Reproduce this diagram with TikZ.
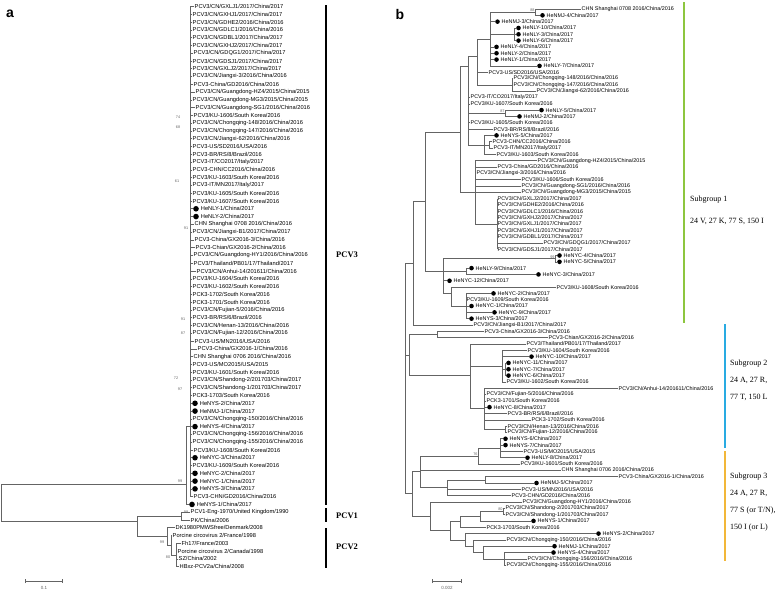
\documentclass[tikz,border=0pt]{standalone}
\usepackage{fontspec}
\setmainfont{Liberation Serif}
\setsansfont{Liberation Sans}
\usetikzlibrary{arrows.meta}

\definecolor{branch}{RGB}{100,100,100}
\definecolor{sgone}{RGB}{141,198,63}
\definecolor{sgtwo}{RGB}{41,171,226}
\definecolor{sgthree}{RGB}{242,183,57}

\newcommand{\lbla}{\sffamily\fontsize{5.7}{6}\selectfont}
\newcommand{\lblb}{\sffamily\fontsize{5.4}{6}\selectfont}
\newcommand{\btf}{\sffamily\fontsize{3.8}{4}\selectfont}

\tikzset{
  leafa/.style={font=\lbla, anchor=west, inner sep=0.5pt},
  leafb/.style={font=\lblb, anchor=west, inner sep=0.5pt},
  hita/.style={circle, fill=black, inner sep=0pt, minimum size=5.6pt, anchor=west},
  hitb/.style={circle, fill=black, inner sep=0pt, minimum size=4.6pt, anchor=west},
  br/.style={draw=branch, line width=0.6pt},
  boot/.style={font=\btf, text=branch, inner sep=0.3pt},
  cladebar/.style={line width=1.6pt},
  cladename/.style={font=\bfseries\fontsize{8.5}{10}\selectfont, anchor=west, inner sep=0pt},
  sgbar/.style={line width=1.5pt},
  sgtext/.style={font=\fontsize{8}{10}\selectfont, anchor=north west, align=left, inner sep=0pt},
  panel/.style={font=\sffamily\bfseries\fontsize{14}{14}\selectfont, inner sep=0pt},
  scalebar/.style={draw=branch, line width=0.7pt, {Bar[width=4pt]}-{Bar[width=4pt]}},
  declare function={ya(\i)=6.5+(\i-1)*7.78; yb(\i)=9+(\i-1)*6.32;}
}

\begin{document}
\begin{tikzpicture}[x=1pt, y=-1pt]
\useasboundingbox (0,0) rectangle (778,590);
\fill[white] (0,0) rectangle (778,590);

\node[panel] (pa) at (10,14) {a};
\node[panel] (pb) at (400,14) {b};

% tree a
\foreach \n/\x/\t in {
  1/194/{PCV3/CN/GXLJ1/2017/China/2017}, 2/192/{PCV3/CN/GXHJ1/2017/China/2017},
  3/192/{PCV3/CN/GDHE2/2016/China/2016}, 4/192/{PCV3/CN/GDLC1/2016/China/2016},
  5/192/{PCV3/CN/GDBL1/2017/China/2017}, 6/192/{PCV3/CN/GXHJ2/2017/China/2017},
  7/193/{PCV3/CN/GDQG1/2017/China/2017}, 8/192/{PCV3/CN/GDSJ1/2017/China/2017},
  9/192/{PCV3/CN/GXLJ2/2017/China/2017}, 10/192/{PCV3/CN/Jiangxi-3/2016/China/2016},
  11/193/{PCV3-China/GD2016/China/2016}, 12/195/{PCV3/CN/Guangdong-HZ4/2015/China/2015},
  13/192/{PCV3/CN/Guangdong-MG3/2015/China/2015}, 14/195/{PCV3/CN/Guangdong-SG1/2016/China/2016},
  15/193/{PCV3/KU-1606/South Korea/2016}, 16/192/{PCV3/CN/Chongqing-148/2016/China/2016},
  17/192/{PCV3/CN/Chongqing-147/2016/China/2016}, 18/192/{PCV3/CN/Jiangxi-62/2016/China/2016},
  19/192/{PCV3-US/SD2016/USA/2016}, 20/192/{PCV3-BR/RS/8/Brazil/2016},
  21/192/{PCV3-IT/CO2017/Italy/2017}, 22/192/{PCV3-CHN/CC2016/China/2016},
  23/192/{PCV3/KU-1603/South Korea/2016}, 24/192/{PCV3-IT/MN2017/Italy/2017},
  25/192/{PCV3/KU-1605/South Korea/2016}, 26/192/{PCV3/KU-1607/South Korea/2016},
  29/194/{CHN Shanghai 0708 2016/China/2016}, 30/192/{PCV3/CN/Jiangxi-B1/2017/China/2017},
  31/194/{PCV3-China/GX2016-3/China/2016}, 32/195/{PCV3-Chian/GX2016-2/China/2016},
  33/193/{PCV3/CN/Guangdong-HY1/2016/China/2016}, 34/193/{PCV3/Thailand/PB01/17/Thailand/2017},
  35/196/{PCV3/CN/Anhui-14/201611/China/2016}, 36/192/{PCV3/KU-1604/South Korea/2016},
  37/192/{PCV3/KU-1602/South Korea/2016}, 38/192/{PCK3-1702/South Korea/2016},
  39/192/{PCK3-1701/South Korea/2016}, 40/192/{PCV3/CN/Fujian-5/2016/China/2016},
  41/192/{PCV3-BR/RS/6/Brazil/2016}, 42/192/{PCV3/CN/Henan-13/2016/China/2016},
  43/192/{PCV3/CN/Fujian-12/2016/China/2016}, 44/194/{PCV3-US/MN2016/USA/2016},
  45/197/{PCV3-China/GX2016-1/China/2016}, 46/193/{CHN Shanghai 0706 2016/China/2016},
  47/192/{PCV3-US/MO2015/USA/2015}, 48/192/{PCV3/KU-1601/South Korea/2016},
  49/192/{PCV3/CN/Shandong-2/201703/China/2017}, 50/192/{PCV3/CN/Shandong-1/201703/China/2017},
  51/192/{PCK3-1703/South Korea/2016}, 54/192/{PCV3/CN/Chongqing-150/2016/China/2016},
  56/192/{PCV3/CN/Chongqing-156/2016/China/2016}, 57/192/{PCV3/CN/Chongqing-155/2016/China/2016},
  58/193/{PCV3/KU-1608/South Korea/2016}, 60/192/{PCV3/KU-1609/South Korea/2016},
  64/193/{PCV3-CHN/GD2016/China/2016}, 66/190/{PCV1-Eng-1970/United Kingdom/1990},
  67/190/{PK/China/2006}, 68/175/{DK1980PMWSfree/Denmark/2008},
  69/172/{Porcine circovirus 2/France/1998}, 70/181/{Fh17/France/2003},
  71/177/{Porcine circovirus 2/Canada/1998}, 72/178/{SZ/China/2002},
  73/179/{HBxz-PCV2a/China/2008}}{
  \coordinate (ta\n) at (\x,{ya(\n)});
  \node[leafa] (a\n) at (ta\n) {\t};
}
\foreach \n/\x/\t in {
  27/193/{HeNLY-1/China/2017}, 28/193/{HeNLY-2/China/2017},
  52/192/{HeNYS-2/China/2017}, 53/192/{HeNMJ-1/China/2017},
  55/192/{HeNYS-4/China/2017}, 59/192/{HeNYC-3/China/2017},
  61/192/{HeNYC-2/China/2017}, 62/192/{HeNYC-1/China/2017},
  63/192/{HeNYS-3/China/2017}, 65/189/{HeNYS-1/China/2017}}{
  \coordinate (ta\n) at (\x,{ya(\n)});
  \node[hita] (da\n) at (ta\n) {};
  \node[leafa] (a\n) at ([xshift=1.2pt]da\n.east) {\t};
}
\foreach \nm/\x/\y in {ac/190/55, ar3/186/62.4, ap1/181/66.5, apc/176/71.5,
  apb/171/70.25, ap2/167/69.1, ar12/137/67.2, aroot/1.5/64.8}
  \coordinate (\nm) at (\x,{ya(\y)});
\foreach \p/\cs in {ac/{1,...,64}, ar3/{65}, ap1/{66,67}, ap2/{68}, apb/{69},
  apc/{70,71,72,73}}
  \foreach \c in \cs \draw[br] (\p) |- (ta\c);
\foreach \p/\q in {aroot/ar3, aroot/ar12, ar3/ac, ar12/ap1, ar12/ap2, ap2/apb, apb/apc}
  \draw[br] (\p) |- (\q);

\foreach \x/\y/\v in {178/117/74, 178/127/68, 177/181/61, 186/228/91, 183/319/91,
  183/333/87, 176/378/72, 180/389/97, 180/481/99, 186/512/99, 162/542/99, 168/557/80}
  \node[boot] at (\x,\y) {\v};

\coordinate (c3t) at (326,5);   \coordinate (c3b) at (326,505);
\coordinate (c1t) at (326,508); \coordinate (c1b) at (326,522);
\coordinate (c2t) at (326,528); \coordinate (c2b) at (326,568);
\draw[cladebar] (c3t) -- (c3b);
\draw[cladebar] (c1t) -- (c1b);
\draw[cladebar] (c2t) -- (c2b);
\node[cladename] (pcv3) at (336,255) {PCV3};
\node[cladename] (pcv1) at (336,516) {PCV1};
\node[cladename] (pcv2) at (336,{ya(70.5)}) {PCV2};

\coordinate (sa0) at (25,581); \coordinate (sa1) at (63,581);
\draw[scalebar] (sa0) -- (sa1);
\node[boot, font=\sffamily\fontsize{4.5}{5}\selectfont] (sal) at (44,588) {0.1};

% tree b
\foreach \n/\x/\t in {
  1/581/{CHN Shanghai 0708 2016/China/2016}, 11/488/{PCV3-US/SD2016/USA/2016},
  12/513/{PCV3/CN/Chongqing-148/2016/China/2016}, 13/513/{PCV3/CN/Chongqing-147/2016/China/2016},
  14/536/{PCV3/CN/Jiangxi-62/2016/China/2016}, 15/470/{PCV3-IT/CO2017/Italy/2017},
  16/470/{PCV3/KU-1607/South Korea/2016}, 19/470/{PCV3/KU-1605/South Korea/2016},
  20/493/{PCV3-BR/RS/8/Brazil/2016}, 22/492/{PCV3-CHN/CC2016/China/2016},
  23/493/{PCV3-IT/MN2017/Italy/2017}, 24/496/{PCV3/KU-1603/South Korea/2016},
  25/537/{PCV3/CN/Guangdong-HZ4/2015/China/2015}, 26/497/{PCV3-China/GD2016/China/2016},
  27/476/{PCV3/CN/Jiangxi-3/2016/China/2016}, 28/521/{PCV3/KU-1606/South Korea/2016},
  29/521/{PCV3/CN/Guangdong-SG1/2016/China/2016}, 30/521/{PCV3/CN/Guangdong-MG3/2015/China/2015},
  31/497/{PCV3/CN/GXLJ2/2017/China/2017}, 32/497/{PCV3/CN/GDHE2/2016/China/2016},
  33/497/{PCV3/CN/GDLC1/2016/China/2016}, 34/497/{PCV3/CN/GXHJ2/2017/China/2017},
  35/497/{PCV3/CN/GXLJ1/2017/China/2017}, 36/497/{PCV3/CN/GXHJ1/2017/China/2017},
  37/497/{PCV3/CN/GDBL1/2017/China/2017}, 38/543/{PCV3/CN/GDQG1/2017/China/2017},
  39/497/{PCV3/CN/GDSJ1/2017/China/2017}, 45/556/{PCV3/KU-1608/South Korea/2016},
  47/466/{PCV3/KU-1609/South Korea/2016}, 51/473/{PCV3/CN/Jiangxi-B1/2017/China/2017},
  52/484/{PCV3-China/GX2016-3/China/2016}, 53/548/{PCV3-Chian/GX2016-2/China/2016},
  54/526/{PCV3/Thailand/PB01/17/Thailand/2017}, 55/527/{PCV3/KU-1604/South Korea/2016},
  60/506/{PCV3/KU-1602/South Korea/2016}, 61/618/{PCV3/CN/Anhui-14/201611/China/2016},
  62/486/{PCV3/CN/Fujian-5/2016/China/2016}, 63/486/{PCK3-1701/South Korea/2016},
  65/507/{PCV3-BR/RS/6/Brazil/2016}, 66/531/{PCK3-1702/South Korea/2016},
  67/507/{PCV3/CN/Henan-13/2016/China/2016}, 68/507/{PCV3/CN/Fujian-12/2016/China/2016},
  71/523/{PCV3-US/MO2015/USA/2015}, 73/520/{PCV3/KU-1601/South Korea/2016},
  74/561/{CHN Shanghai 0706 2016/China/2016}, 75/618/{PCV3-China/GX2016-1/China/2016},
  77/521/{PCV3-US/MN2016/USA/2016}, 78/511/{PCV3-CHN/GD2016/China/2016},
  79/522/{PCV3/CN/Guangdong-HY1/2016/China/2016}, 80/505/{PCV3/CN/Shandong-2/201703/China/2017},
  81/505/{PCV3/CN/Shandong-1/201703/China/2017}, 83/486/{PCK3-1703/South Korea/2016},
  85/506/{PCV3/CN/Chongqing-150/2016/China/2016}, 88/527/{PCV3/CN/Chongqing-156/2016/China/2016},
  89/506/{PCV3/CN/Chongqing-155/2016/China/2016}}{
  \coordinate (tb\n) at (\x,{yb(\n)});
  \node[leafb] (b\n) at (tb\n) {\t};
}
\foreach \n/\x/\t in {
  2/540/{HeNMJ-4/China/2017}, 3/495/{HeNMJ-3/China/2017}, 4/516/{HeNLY-10/China/2017},
  5/516/{HeNLY-3/China/2017}, 6/516/{HeNLY-6/China/2017}, 7/494/{HeNLY-4/China/2017},
  8/494/{HeNLY-2/China/2017}, 9/494/{HeNLY-1/China/2017}, 10/537/{HeNLY-7/China/2017},
  17/539/{HeNLY-5/China/2017}, 18/517/{HeNMJ-2/China/2017}, 21/494/{HeNYS-5/China/2017},
  40/557/{HeNYC-4/China/2017}, 41/557/{HeNYC-5/China/2017}, 42/469/{HeNLY-9/China/2017},
  43/536/{HeNYC-3/China/2017}, 44/447/{HeNYC-12/China/2017}, 46/491/{HeNYC-2/China/2017},
  48/469/{HeNYC-1/China/2017}, 49/492/{HeNYC-9/China/2017}, 50/469/{HeNYS-3/China/2017},
  56/529/{HeNYC-10/China/2017}, 57/506/{HeNYC-11/China/2017}, 58/506/{HeNYC-7/China/2017},
  59/506/{HeNYC-6/China/2017}, 64/487/{HeNYC-8/China/2017}, 69/503/{HeNYS-6/China/2017},
  70/503/{HeNYS-7/China/2017}, 72/525/{HeNLY-8/China/2017}, 76/534/{HeNMJ-5/China/2017},
  82/531/{HeNYS-1/China/2017}, 84/596/{HeNYS-2/China/2017}, 86/552/{HeNMJ-1/China/2017},
  87/551/{HeNYS-4/China/2017}}{
  \coordinate (tb\n) at (\x,{yb(\n)});
  \node[hitb] (db\n) at (tb\n) {};
  \node[leafb] (b\n) at ([xshift=1pt]db\n.east) {\t};
}
\foreach \nm/\x/\y in {bA/535/1.5, bD/514/5, bC/490/5.75, bE/512/13, bB/477/8.5,
  bF/505/17.5, bI/489/22.5, bH/484/22.5, bP1/468/10, bK/497/35, bJ/475/30,
  bP0/460/20.5, bM/555/40.5, bN/466/42.5, bP/466/48, bO/451/46, bL/443/42.5,
  bPA/425/31.5, bS/413/41.3, bU/437/52.5, bW/505/58, bV/502/57.5, bZ/505/67.5,
  bY/484/64.2, bX/470/59, bQ/409/55.8, bAA/500/70.5, bAB/478/71.7, bAC/485/75.5,
  bAD/447/76.7, bAE/420/74.2, bAF/503/80.5, bAG/480/81.2, bAH/460/82.1,
  bAI/504/88, bAJ/483/87, bAK/473/86, bAL/465/85, bAM/450/83.5, bAN/430/81.3,
  bAO/412/77.7, bR/405/59.5}
  \coordinate (\nm) at (\x,{yb(\y)});
\foreach \p/\cs in {bA/{1,2}, bC/{3,7,8,9,10}, bD/{4,5,6}, bB/{11}, bE/{12,13,14},
  bP1/{15,16,19,20}, bF/{17,18}, bH/{21,24}, bI/{22,23}, bJ/{25,...,30},
  bK/{31,...,39}, bM/{40,41}, bN/{42,43}, bL/{44}, bO/{45}, bP/{46,...,50},
  bS/{51}, bU/{52,53}, bX/{54}, bV/{55,56,60}, bW/{57,58,59}, bY/{61,...,66},
  bZ/{67,68}, bAA/{69,...,72}, bAB/{73}, bAE/{74}, bAC/{75,76}, bAD/{77,78},
  bAN/{79}, bAF/{80,81}, bAG/{82}, bAH/{83}, bAL/{84}, bAK/{85}, bAJ/{86},
  bAI/{87,88,89}}
  \foreach \c in \cs \draw[br] (\p) |- (tb\c);
\foreach \p/\q in {bC/bA, bC/bD, bB/bC, bB/bE, bP1/bB, bP1/bF, bP1/bH, bH/bI,
  bJ/bK, bP0/bP1, bP0/bJ, bL/bM, bL/bN, bL/bO, bO/bP, bPA/bP0, bPA/bL, bS/bPA,
  bV/bW, bY/bZ, bX/bV, bX/bY, bQ/bU, bQ/bX, bAB/bAA, bAD/bAC, bAE/bAB, bAE/bAD,
  bAG/bAF, bAH/bAG, bAJ/bAI, bAK/bAJ, bAL/bAK, bAM/bAH, bAM/bAL, bAN/bAM,
  bAO/bAE, bAO/bAN, bR/bS, bR/bQ, bR/bAO}
  \draw[br] (\p) |- (\q);

\foreach \p/\v in {bA/88, bF/87, bM/99, bAB/76, bAF/80}
  \node[boot, above left] at (\p) {\v};

\coordinate (sb0) at (432,581); \coordinate (sb1) at (462,581);
\draw[scalebar] (sb0) -- (sb1);
\node[boot, font=\sffamily\fontsize{4.5}{5}\selectfont] (sbl) at (447,588) {0.002};

\coordinate (g1t) at (684,2);   \coordinate (g1b) at (684,323);
\coordinate (g2t) at (725,324); \coordinate (g2b) at (725,448);
\coordinate (g3t) at (725,451); \coordinate (g3b) at (725,561);
\draw[sgbar, sgone] (g1t) -- (g1b);
\draw[sgbar, sgtwo] (g2t) -- (g2b);
\draw[sgbar, sgthree] (g3t) -- (g3b);
\node[sgtext] (sg1) at (690,196) {Subgroup 1\\[12pt] 24 V, 27 K, 77 S, 150 I};
\node[sgtext] (sg2) at (730,360) {Subgroup 2\\[7pt] 24 A, 27 R,\\[7pt] 77 T, 150 L};
\node[sgtext] (sg3) at (730,473) {Subgroup 3\\[7pt] 24 A, 27 R,\\[7pt] 77 S (or T/N),\\[7pt] 150 I (or L)};
\end{tikzpicture}
\end{document}
